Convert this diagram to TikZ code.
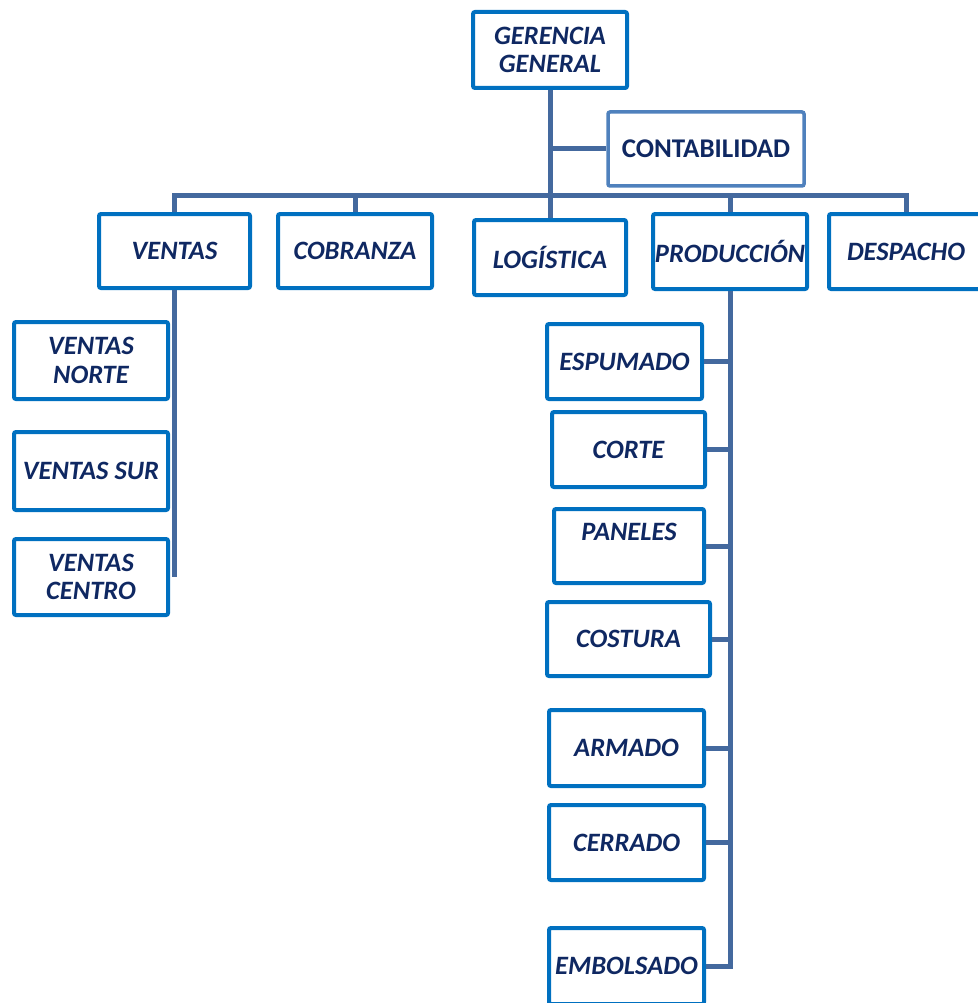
\documentclass[tikz,border=0pt]{standalone}
\usepackage{fontspec}
\setmainfont{Carlito}
\usepackage{xcolor}
\usetikzlibrary{positioning}
\definecolor{boxblue}{HTML}{0070C0}
\definecolor{contablue}{HTML}{4F81BD}
\definecolor{linkblue}{HTML}{44699E}
\definecolor{navy}{HTML}{0F2862}
\tikzset{
   unit/.style 2 args={%outer size minus the border
      draw=boxblue, line width=4pt, rounded corners=2pt, fill=white,
      minimum width=#1-4pt, minimum height=#2-4pt,
      inner xsep=0pt, inner ysep=0pt, align=center,
      text=navy, font=\fontsize{26.5}{28.5}\selectfont\bfseries\itshape},
   link/.style={draw=linkblue, line width=5pt},
}
\begin{document}
\begin{tikzpicture}[x=1pt, y=-1pt]
  \useasboundingbox (0,0) rectangle (977,1003);
  \node[unit={158pt}{80pt}] (gerencia) at (550,50) {GERENCIA\\GENERAL};
  \node[unit={200pt}{78pt}, draw=contablue, line width=3.5pt,
        font=\fontsize{27}{28}\selectfont\bfseries] (conta) at (706,149) {CONTABILIDAD};
  \coordinate (hub) at (550,195);
  % second level
  \node[unit={155pt}{78pt}] (ventas) at (174.5,251) {VENTAS};
  \node[unit={158pt}{78pt}] (cobranza) at (355,251) {COBRANZA};
  \node[unit={156pt}{79pt}] (logistica) at (550,257.5) {LOGÍSTICA};
  \node[unit={158pt}{79pt}] (produccion) at (730,251.5) {PRODUCCIÓN};
  \node[unit={158pt}{79pt}] (despacho) at (906,251.5) {DESPACHO};
  % ventas
  \node[unit={158pt}{81pt}] (vnorte) at (91,360.5) {VENTAS\\NORTE};
  \node[unit={158pt}{82pt}] (vsur) at (91,471) {VENTAS SUR};
  \node[unit={158pt}{80pt}] (vcentro) at (91,577) {VENTAS\\CENTRO};
  % produccion
  \node[unit={159pt}{79pt}] (espumado) at (624.5,361.5) {ESPUMADO};
  \node[unit={157pt}{79pt}] (corte) at (628.5,449.5) {CORTE};
  \node[unit={154pt}{78pt}] (paneles) at (629,546) {PANELES\\\mbox{}};
  \node[unit={167pt}{78pt}] (costura) at (628.5,639) {COSTURA};
  \node[unit={159pt}{80pt}] (armado) at (626.5,748) {ARMADO};
  \node[unit={159pt}{79pt}] (cerrado) at (626.5,842.5) {CERRADO};
  \node[unit={159pt}{80pt}] (embolsado) at (626.5,966) {EMBOLSADO};
  \begin{scope}[link]
  \draw (gerencia.south) -- (hub);
  \draw (gerencia.south |- conta.west) -- (conta.west);
  \draw (ventas.north) |- (hub) -| (despacho.north);
  \draw (hub) -- (logistica.north);
  \draw (cobranza.north) -- (cobranza.north |- hub);
  \draw (produccion.north) -- (produccion.north |- hub);
  \draw (ventas.south) -- (ventas.south |- vcentro.center);
  \draw (produccion.south) |- (embolsado.east);
  \foreach \n in {espumado,corte,paneles,costura,armado,cerrado}
    \draw (\n.east) -- (\n.east -| produccion.south);
  \end{scope}
\end{tikzpicture}
\end{document}
